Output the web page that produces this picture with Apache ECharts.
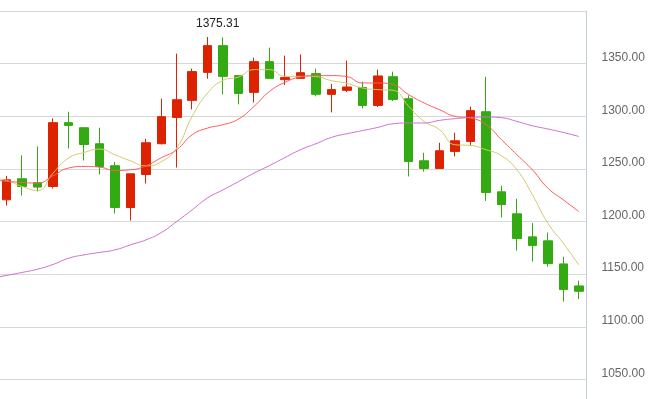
<!DOCTYPE html>
<html>
<head>
<meta charset="utf-8">
<script src="https://cdn.jsdelivr.net/npm/echarts@6/dist/echarts.min.js"></script>
<style>
html, body { margin: 0; padding: 0; background: #fff; overflow: hidden; }
/* plot runs past the left and bottom edges of the window, like a cropped stock chart */
#main { position: absolute; left: -17px; top: 0; width: 684px; height: 432px; }
</style>
</head>
<body>
<div id="main"></div>
<script>
// first category lies just left of the visible area (only its MA values show)
const categories = ['0', '1', '2', '3', '4', '5', '6', '7', '8', '9', '10', '11', '12', '13',
    '14', '15', '16', '17', '18', '19', '20', '21', '22', '23', '24', '25', '26', '27', '28',
    '29', '30', '31', '32', '33', '34', '35', '36', '37', '38']

// [open, close, low, high]
const ohlc = [
    '-',
    [1220.6, 1239.6, 1215.2, 1243.4],
    [1240.6, 1233.3, 1224.7, 1262.8],
    [1236.8, 1232.7, 1228.5, 1271.3],
    [1233.3, 1293.9, 1231.4, 1298.0],
    [1293.9, 1291.3, 1269.4, 1304.3],
    [1289.1, 1273.2, 1258.0, 1289.1],
    [1273.9, 1252.3, 1244.7, 1289.1],
    [1253.0, 1213.3, 1207.6, 1256.5],
    [1213.3, 1245.3, 1200.9, 1245.3],
    [1244.7, 1274.8, 1236.1, 1278.6],
    [1273.9, 1299.6, 1273.2, 1316.7],
    [1298.9, 1315.7, 1251.3, 1359.5],
    [1315.1, 1342.4, 1306.5, 1345.2],
    [1341.7, 1367.1, 1335.7, 1375.31],
    [1367.1, 1337.9, 1320.8, 1374.9],
    [1338.6, 1321.7, 1311.3, 1338.6],
    [1322.7, 1351.9, 1313.2, 1355.7],
    [1351.9, 1336.0, 1336.0, 1365.2],
    [1334.8, 1336.7, 1329.7, 1357.6],
    [1336.0, 1341.4, 1336.0, 1358.6],
    [1340.5, 1320.8, 1318.9, 1345.2],
    [1320.8, 1325.3, 1303.7, 1330.7],
    [1324.6, 1327.8, 1323.1, 1352.9],
    [1327.2, 1310.3, 1307.5, 1332.9],
    [1310.3, 1338.3, 1308.8, 1344.3],
    [1337.6, 1316.0, 1314.5, 1342.4],
    [1316.7, 1257.0, 1242.8, 1319.8],
    [1257.7, 1250.4, 1247.5, 1265.3],
    [1250.4, 1267.2, 1250.4, 1274.8],
    [1266.6, 1276.7, 1261.8, 1284.3],
    [1276.1, 1305.3, 1272.3, 1309.1],
    [1304.3, 1227.5, 1219.6, 1337.6],
    [1228.2, 1216.1, 1203.8, 1233.9],
    [1207.3, 1183.8, 1172.4, 1221.6],
    [1185.4, 1177.1, 1161.9, 1198.7],
    [1181.6, 1160.0, 1157.1, 1189.5],
    [1159.7, 1135.3, 1123.8, 1166.4],
    [1138.8, 1133.7, 1126.4, 1143.8]
]

const ma5 = [1241.5, 1239.0, 1233.3, 1229.4, 1246.0, 1260.3, 1265.6, 1268.8, 1263.4, 1257.7,
    1252.9, 1256.8, 1269.8, 1299.9, 1322.1, 1334.1, 1337.3, 1344.3, 1344.3, 1337.9,
    1337.9, 1337.6, 1333.8, 1331.3, 1326.9, 1325.3, 1324.6, 1309.4, 1295.1, 1287.2,
    1272.9, 1272.3, 1268.2, 1262.5, 1249.1, 1225.4, 1198.4, 1179.4, 1158.8]

const ma10 = [1239.6, 1238.2, 1237.1, 1236.5, 1243.4, 1250.8, 1252.3, 1251.7, 1248.5, 1249.1,
    1252.9, 1260.6, 1268.2, 1282.4, 1288.8, 1292.0, 1297.4, 1309.4, 1323.6, 1332.2,
    1337.3, 1338.6, 1338.6, 1337.6, 1331.6, 1331.6, 1330.0, 1320.5, 1312.6, 1306.2,
    1299.9, 1298.3, 1292.0, 1277.7, 1263.4, 1249.1, 1231.7, 1220.6, 1209.5]

const ma30 = [1145.9, 1148.8, 1151.6, 1154.7, 1159.2, 1165.1, 1168.3, 1170.6, 1173.0, 1177.8,
    1182.5, 1189.5, 1200.0, 1211.1, 1222.5, 1230.1, 1238.0, 1246.0, 1253.2, 1260.8,
    1268.2, 1273.9, 1279.9, 1283.4, 1286.3, 1289.4, 1292.9, 1293.6, 1293.6, 1296.1,
    1297.7, 1298.9, 1299.3, 1298.6, 1295.1, 1291.0, 1287.9, 1284.6, 1280.8]

const upColor = '#dd2200'
const downColor = '#33aa11'

const chart = echarts.init(document.getElementById('main'))

function maLine (name, data, color) {
    return {
        name: name,
        type: 'line',
        data: data,
        smooth: true,
        showSymbol: false,
        silent: true,
        lineStyle: { width: 1, color: color }
    }
}

chart.setOption({
    animation: false,
    grid: { left: 0.5, right: 80.5, top: 11, bottom: 0 },
    xAxis: {
        type: 'category',
        data: categories,
        boundaryGap: true,
        axisLine: { show: false },
        axisTick: { show: false },
        axisLabel: { show: false },
        splitLine: { show: false }
    },
    yAxis: {
        type: 'value',
        position: 'right',
        min: 1000,
        max: 1400,
        interval: 50,
        axisLine: { show: true, lineStyle: { color: '#c0d0e0', width: 1 } },
        axisTick: { show: false },
        axisLabel: {
            showMaxLabel: false,
            margin: 15,
            color: '#666',
            fontSize: 12,
            fontFamily: 'Liberation Sans',
            verticalAlign: 'bottom',
            formatter: function (v) { return v.toFixed(2) }
        },
        splitLine: { lineStyle: { color: '#d8d8d8', width: 1 } }
    },
    series: [
        {
            name: 'K',
            type: 'candlestick',
            data: ohlc,
            barWidth: 9,
            itemStyle: {
                color: upColor,
                color0: downColor,
                borderColor: upColor,
                borderColor0: downColor,
                borderWidth: 1
            },
            markPoint: {
                symbol: 'circle',
                symbolSize: 0,
                data: [{ type: 'max', valueDim: 'highest' }],
                label: {
                    show: true,
                    position: 'inside',
                    offset: [10, -13],
                    color: '#222',
                    fontSize: 12,
                    fontFamily: 'Liberation Sans',
                    formatter: function (p) { return Number(p.value).toFixed(2) }
                }
            }
        },
        maLine('MA5', ma5, '#d2c86e'),
        maLine('MA10', ma10, '#ff5a5a'),
        maLine('MA30', ma30, '#cc6fcc')
    ]
})
</script>
</body>
</html>
